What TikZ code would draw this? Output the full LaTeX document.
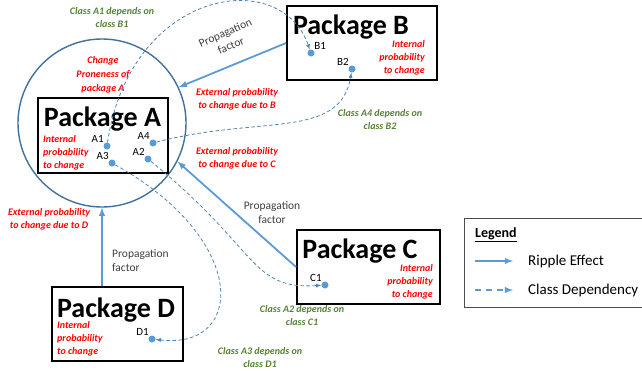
\documentclass[tikz,border=0pt]{standalone}
\usepackage{fontspec}
\setmainfont{Carlito}
\usetikzlibrary{arrows, positioning}
\definecolor{rippleblue}{RGB}{91,155,213}
\definecolor{ringblue}{RGB}{65,113,156}
\definecolor{probred}{RGB}{255,0,0}
\definecolor{depgreen}{RGB}{84,130,53}
\tikzset{
>=latex, % arrow heads of all connectors
package/.style={draw=black, line width=1.8pt, inner sep=0pt}, % the four package boxes
pkgtitle/.style={font=\fontsize{28}{30}\selectfont\bfseries, inner sep=0pt, anchor=base}, % package names
ring/.style={circle, draw=ringblue, line width=1.4pt, inner sep=0pt}, % change proneness circle
redtext/.style={text=probred, font=\fontsize{10}{13}\selectfont\bfseries\itshape, inner sep=0pt, align=center}, % probabilities
greentext/.style={text=depgreen, font=\fontsize{10}{12.5}\selectfont\bfseries\itshape, inner sep=0pt, align=center}, % dependency notes
factor/.style={text=black!75, font=\fontsize{11.5}{14}\selectfont, inner sep=0pt, align=center}, % propagation factor
cls/.style={circle, fill=rippleblue, inner sep=0pt, minimum size=7pt}, % class dots
clslbl/.style={font=\fontsize{11}{12}\selectfont, inner sep=0.5pt}, % class names
ripplearrow/.style={->, draw=rippleblue, line width=1.8pt}, % ripple effect
dep/.style={->, draw=rippleblue!85!black, line width=0.8pt, dash pattern=on 3.5pt off 2.5pt}, % class dependency
legenddep/.style={->, draw=rippleblue, line width=1.8pt, dash pattern=on 6pt off 5pt}, % legend sample
legendtext/.style={font=\fontsize{15}{17}\selectfont, inner sep=0pt}, % legend entries
}

\begin{document}
\begin{tikzpicture}[x=1pt, y=-1pt]
\clip (0,0) rectangle (642,370);

% change proneness of package A
\node[ring, minimum size=168pt] (cpA) at (102,123) {};

% packages
\node[package, minimum width=130pt, minimum height=75pt] (pkgA) at (103,135.5) {};
\node[package, minimum width=150pt, minimum height=74pt] (pkgB) at (362,43) {};
\node[package, minimum width=143pt, minimum height=74pt] (pkgC) at (368.5,267) {};
\node[package, minimum width=131pt, minimum height=74pt] (pkgD) at (117.5,324) {};

\node[pkgtitle] (titleA) at (102.5,126) {Package A};
\node[pkgtitle] (titleB) at (351,34) {Package B};
\node[pkgtitle] (titleC) at (360,258) {Package C};
\node[pkgtitle] (titleD) at (116,317) {Package D};

% internal probabilities
\node[redtext, anchor=west, align=left] (inA) at (43,152.5) {Internal\\probability\\to change};
\node[redtext, anchor=east, align=right] (inB) at (425,58) {Internal\\probability\\to change};
\node[redtext, anchor=east, align=right] (inC) at (433,282) {Internal\\probability\\to change};
\node[redtext, anchor=west, align=left] (inD) at (57,339) {Internal\\probability\\to change};

% external probabilities
\node[redtext, font=\fontsize{10}{14}\selectfont\bfseries\itshape] (proneA) at (103,75) {Change\\Proneness of\\package A};
\node[redtext] (extB) at (237,99.5) {External probability\\to change due to B};
\node[redtext] (extC) at (237,158) {External probability\\to change due to C};
\node[redtext] (extD) at (49,219) {External probability\\to change due to D};

% classes
\node[cls, label={[clslbl]above left:A1}] (A1) at (107,146) {};
\node[cls, label={[clslbl]above left:A4}] (A4) at (153,143) {};
\node[cls, label={[clslbl]above left:A2}] (A2) at (148,159) {};
\node[cls, label={[clslbl]above left:A3}] (A3) at (112,163) {};
\node[cls, label={[clslbl]above right:B1}] (B1) at (311,53) {};
\node[cls, label={[clslbl]above left:B2}] (B2) at (352,69) {};
\node[cls, label={[clslbl]above left:C1}] (C1) at (325,285) {};
\node[cls, label={[clslbl]above left:D1}] (D1) at (152,339) {};

% ripple effect
\draw (pkgB.west) edge[ripplearrow] (cpA.25)
      (pkgC.west) edge[ripplearrow] (cpA.-27)
      (cpA.south |- pkgD.north) edge[ripplearrow] (cpA.south);

\node[factor, rotate=24] (pfB) at (228,39) {Propagation\\factor};
\node[factor] (pfC) at (272,213) {Propagation\\factor};
\node[factor, anchor=west, align=left] (pfD) at (112,261) {Propagation\\factor};

% class dependencies
\draw[dep] (A1) .. controls (130,-10) and (280,-35) .. (B1);
\draw[dep] (A4) .. controls (260,115) and (340,140) .. (B2);
\draw[dep] (A2) .. controls (260,250) and (250,290) .. (C1);
\draw[dep] (A3) .. controls (250,240) and (245,350) .. (D1);

\node[greentext] (noteB1) at (112,17.5) {Class A1 depends on\\class B1};
\node[greentext] (noteB2) at (380,119.5) {Class A4 depends on\\class B2};
\node[greentext] (noteC1) at (302,315.5) {Class A2 depends on\\class C1};
\node[greentext] (noteD1) at (260,357.5) {Class A3 depends on\\class D1};

% legend
\node[draw=black!70, line width=0.8pt, minimum width=200pt, minimum height=89pt] (legend) at (564,262.5) {};
\node[font=\fontsize{14}{16}\selectfont\bfseries, inner sep=0pt, anchor=west] (legtitle) at (475,235) {\underline{Legend}};
\coordinate (ripS) at (475,261);
\coordinate (ripE) at (513,261);
\coordinate (depS) at (475,290);
\coordinate (depE) at (513,290);
\draw (ripS) edge[ripplearrow] (ripE)
      (depS) edge[legenddep] (depE);
\node[legendtext, right=15pt of ripE] (ripText) {Ripple Effect};
\node[legendtext, right=15pt of depE] (depText) {Class Dependency};
\end{tikzpicture}
\end{document}
